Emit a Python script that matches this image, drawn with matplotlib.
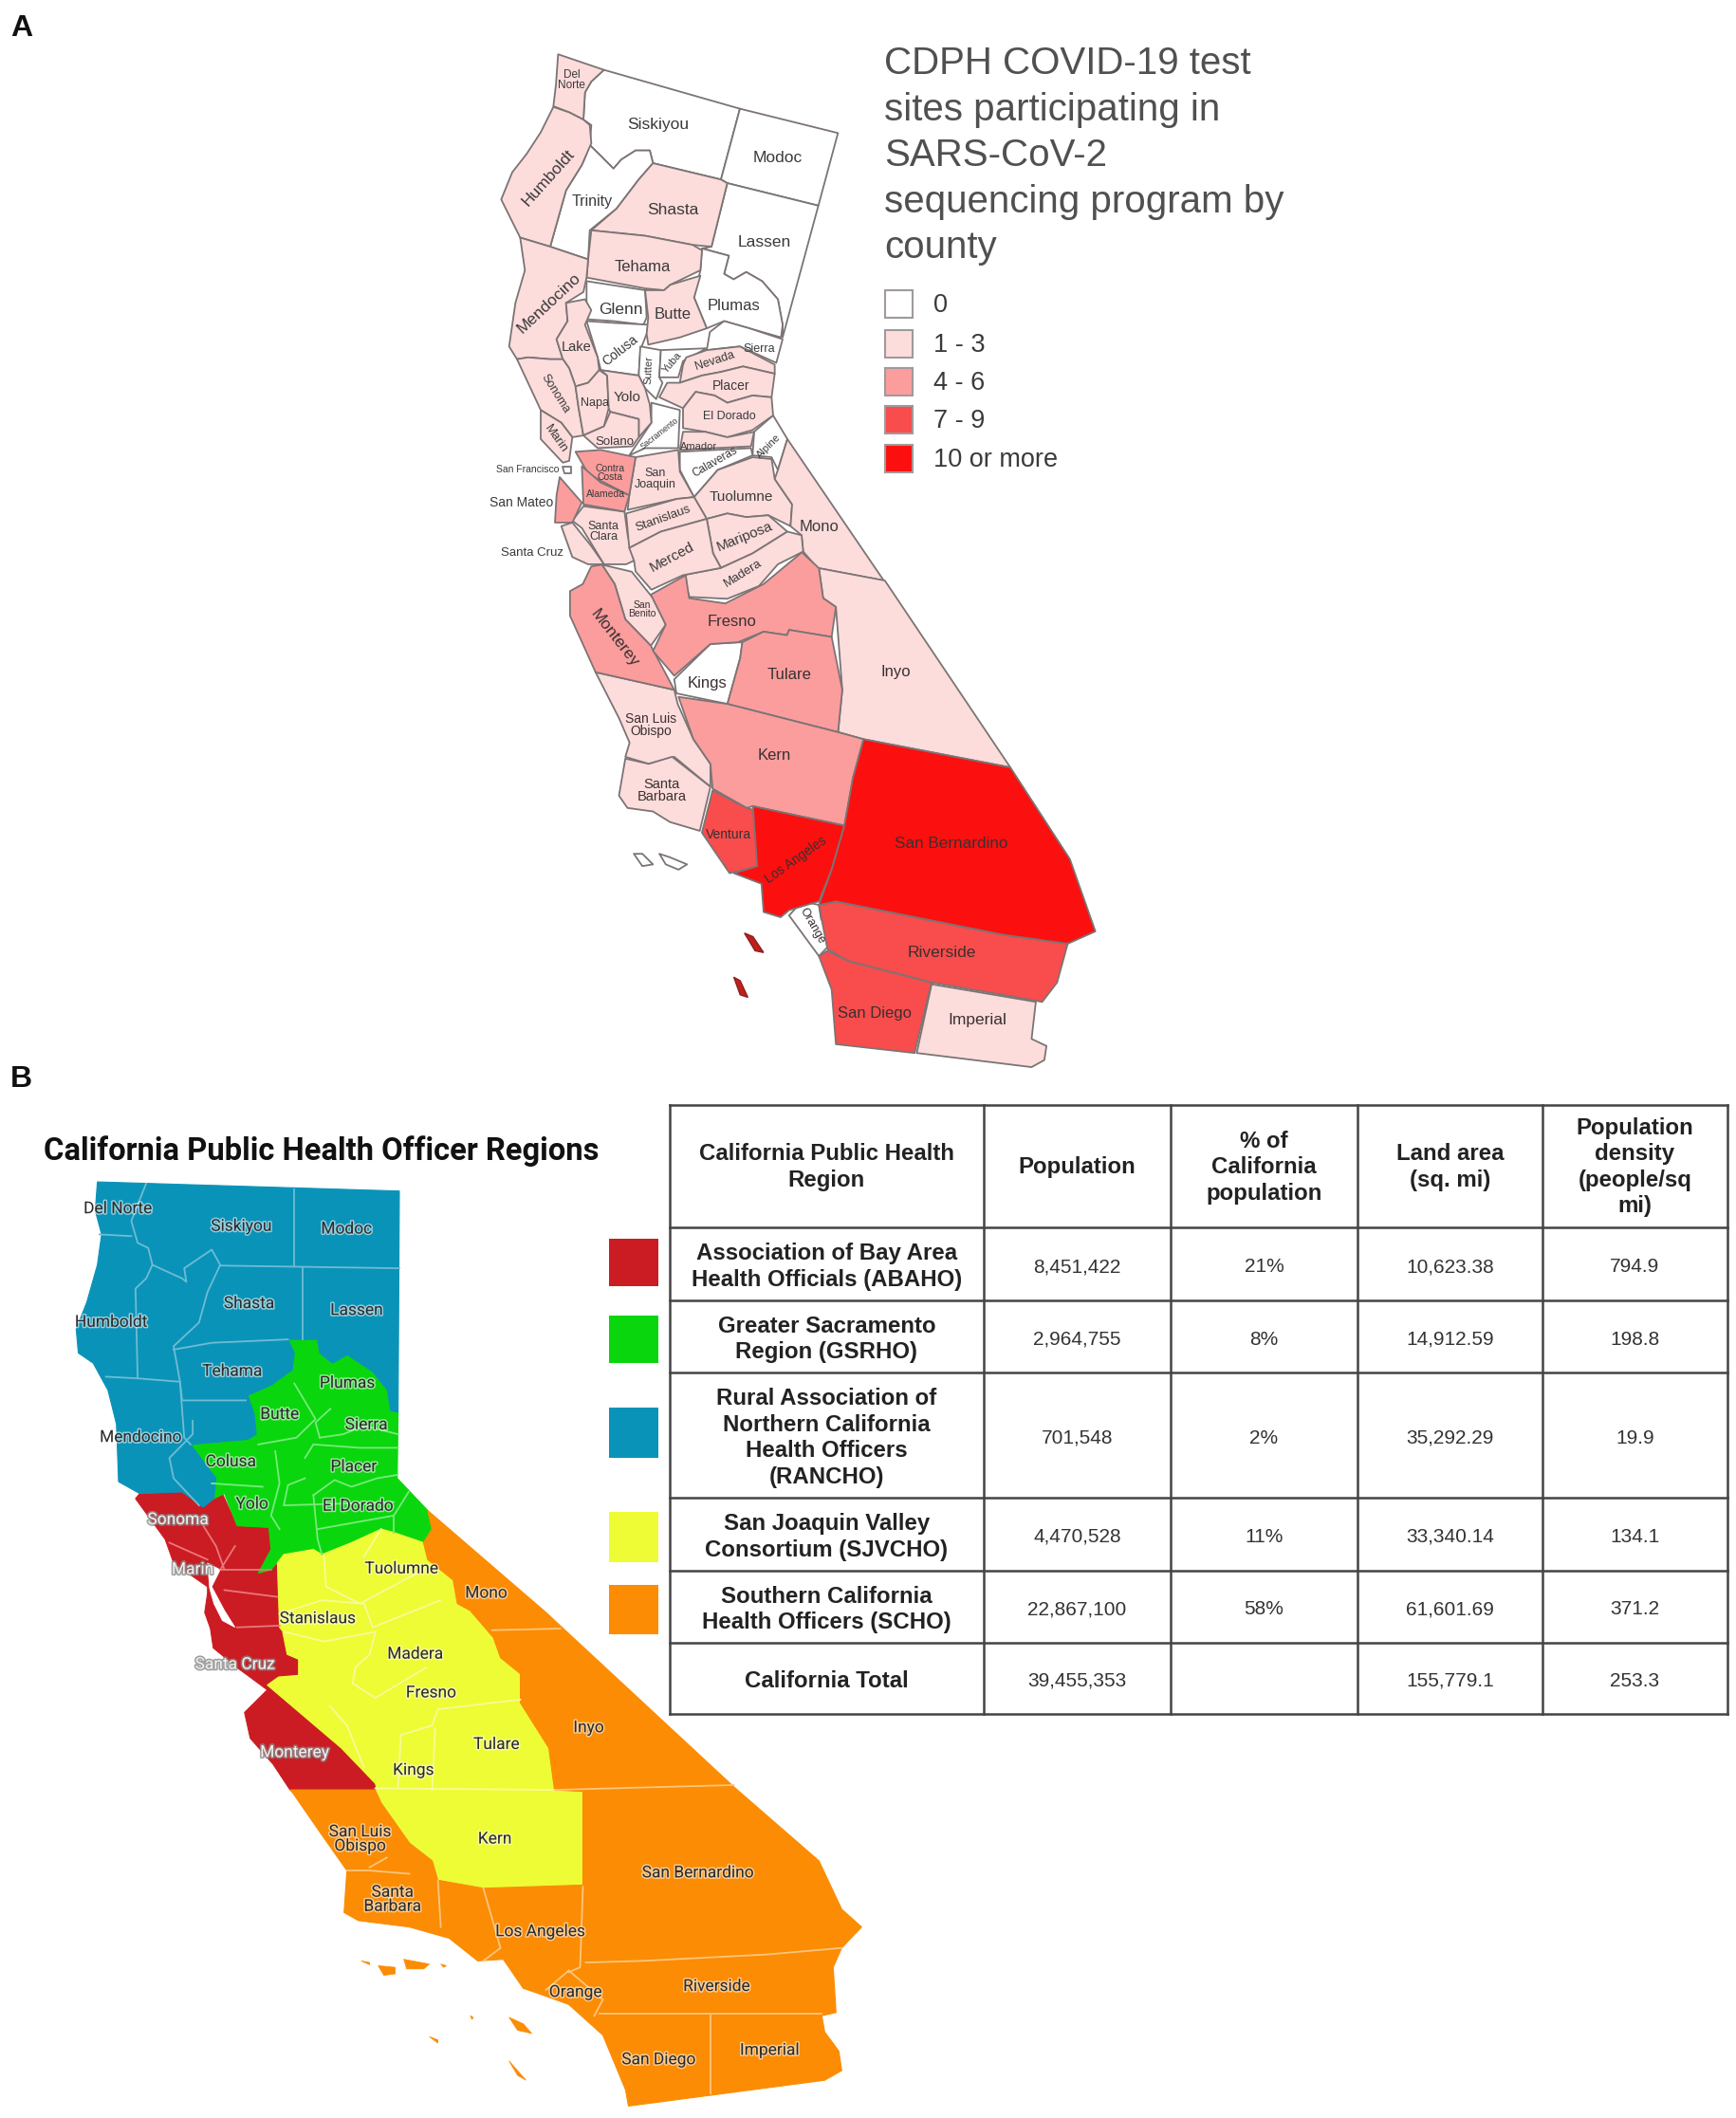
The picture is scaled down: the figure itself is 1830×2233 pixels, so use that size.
import matplotlib
matplotlib.use("Agg")
import matplotlib.pyplot as plt
import matplotlib.patheffects as pe
from matplotlib.patches import Polygon, Rectangle

plt.rcParams["font.family"] = ["Liberation Sans", "DejaVu Sans"]

# Map outlines in four crops, each with its own scale
def north_a(pts):
    return [(500 + x / 3.0, 40 + y / 2.613) for x, y in pts]

def south_a(pts):
    return [(500 + x / 2.23, 560 + y / 2.69) for x, y in pts]

def north_b(pts):
    return [(x / 2.24, 1180 + y / 2.8) for x, y in pts]

def south_b(pts):
    return [(x / 1.668, 1700 + y / 2.94) for x, y in pts]

# Panel A colour classes
tier_labels = ["0", "1 - 3", "4 - 6", "7 - 9", "10 or more"]
tier_colors = ["#ffffff", "#fddcdc", "#fb9d9d", "#f94c4c", "#fc0f0f"]

# Panel A counties, north part
del_norte = [(265,45),(410,88),(370,120),(350,150),(345,225),(300,205),(250,188),(258,130)]
humboldt = [(250,190),(300,205),(345,225),(365,240),(370,290),(350,330),(340,350),(290,420),(240,575),(145,550),(85,445),(120,370),(165,320),(210,260)]
siskiyou = [(410,88),(840,195),(780,390),(565,345),(555,310),(510,310),(465,335),(440,360),(400,325),(365,295),(370,240),(345,225),(350,150),(370,120)]
modoc = [(840,195),(1150,262),(1088,462),(800,400),(780,390)]
trinity = [(365,295),(400,325),(440,360),(465,335),(510,310),(555,310),(565,345),(520,390),(450,470),(365,530),(360,610),(240,575),(290,420),(340,350),(350,330)]
shasta = [(565,345),(780,390),(800,400),(750,575),(690,570),(540,545),(370,530),(450,470),(520,390)]
lassen = [(800,400),(1088,462),(975,825),(975,790),(960,720),(910,670),(860,645),(820,665),(790,650),(805,600),(720,580),(750,575)]
plumas = [(720,580),(805,600),(790,650),(820,665),(860,645),(910,670),(960,720),(975,790),(970,825),(870,800),(790,780),(735,800),(695,715),(715,640)]
tehama = [(370,530),(540,545),(690,570),(720,585),(715,640),(620,680),(600,695),(540,690),(355,660),(360,610)]
mendocino = [(145,550),(240,575),(360,610),(355,660),(345,700),(290,730),(295,780),(260,830),(280,885),(240,885),(170,880),(135,885),(110,850),(130,730),(160,640)]
glenn = [(355,670),(540,695),(545,770),(535,790),(440,780),(355,775)]
butte = [(540,695),(600,695),(620,680),(715,655),(695,715),(735,800),(650,825),(550,845),(545,815),(550,770)]
lake = [(290,730),(350,720),(370,750),(350,790),(390,880),(395,915),(360,950),(320,960),(300,910),(280,885),(260,830),(295,780)]
colusa = [(355,780),(440,785),(550,790),(545,815),(525,860),(520,930),(400,915),(390,880)]
sutter = [(525,850),(590,860),(585,935),(595,950),(575,995),(540,965),(520,930)]
yuba = [(590,860),(735,855),(660,890),(645,935),(585,935)]
sierra = [(745,810),(790,780),(870,800),(975,830),(955,895),(840,850),(735,860)]
nevada = [(670,880),(735,860),(840,850),(950,900),(950,925),(850,905),(780,920),(720,930),(650,950),(660,900)]
placer = [(650,950),(720,930),(780,920),(850,905),(950,925),(940,990),(880,985),(800,1005),(760,985),(700,975),(660,1020),(585,990),(610,950)]
el_dorado = [(660,1020),(700,975),(760,985),(800,1005),(880,985),(940,990),(945,1040),(880,1080),(800,1100),(730,1085),(660,1075)]
amador = [(660,1085),(730,1085),(800,1100),(885,1085),(875,1125),(650,1135)]
alpine = [(885,1085),(945,1040),(990,1105),(960,1190),(940,1155),(880,1150)]
calaveras = [(650,1140),(875,1130),(880,1150),(770,1190),(695,1265),(650,1190)]
tuolumne = [(695,1265),(770,1190),(880,1155),(940,1160),(950,1215),(1005,1285),(1000,1345),(930,1315),(860,1320),(800,1310),(735,1325)]
mono = [(990,1105),(1295,1495),(1085,1460),(1040,1415),(1035,1370),(1000,1345),(1005,1285),(950,1215),(960,1190)]
mariposa = [(735,1325),(800,1310),(860,1320),(930,1315),(990,1360),(880,1420),(780,1460),(755,1420)]
madera = [(660,1480),(780,1460),(880,1420),(990,1360),(1035,1370),(1040,1415),(960,1450),(900,1510),(800,1545),(680,1540)]
sonoma = [(135,885),(170,880),(240,885),(280,885),(300,910),(320,960),(330,1020),(345,1095),(310,1100),(275,1060),(210,1025)]
napa = [(320,960),(360,950),(395,915),(420,930),(425,1020),(410,1070),(345,1095),(330,1020)]
yolo = [(400,915),(520,930),(540,965),(555,1010),(560,1060),(520,1100),(520,1050),(430,1030),(425,1020),(420,930)]
solano = [(345,1095),(410,1070),(430,1030),(520,1050),(520,1100),(500,1125),(390,1130)]
marin = [(210,1025),(275,1060),(310,1100),(300,1165),(280,1170),(210,1105)]
sacramento = [(560,1005),(650,1025),(645,1130),(540,1130),(490,1150),(560,1060)]
contra_costa = [(320,1140),(400,1135),(510,1155),(490,1260),(400,1220),(360,1200),(340,1170)]
alameda = [(340,1180),(400,1225),(490,1260),(475,1305),(345,1285)]
san_francisco = [(280,1180),(305,1180),(305,1200),(285,1200)]
san_mateo = [(270,1210),(300,1240),(340,1280),(310,1335),(255,1335),(260,1260)]
santa_clara = [(345,1290),(475,1305),(485,1370),(505,1440),(480,1450),(410,1450),(340,1350),(310,1330)]
santa_cruz = [(275,1345),(310,1335),(370,1400),(410,1450),(360,1450),(310,1430)]
san_joaquin = [(510,1155),(645,1135),(650,1195),(695,1265),(640,1270),(485,1300),(490,1260)]
stanislaus = [(480,1310),(640,1270),(695,1265),(735,1325),(590,1360),(490,1405)]
merced = [(490,1405),(590,1360),(735,1325),(755,1420),(780,1460),(660,1480),(560,1520),(510,1470),(505,1440)]

# Panel A counties, south part
san_benito = [(300,95),(370,115),(420,190),(450,265),(415,325),(355,250),(330,150)]
monterey = [(275,100),(300,95),(330,150),(355,250),(415,325),(470,450),(285,400),(225,240),(225,170),(255,150)]
fresno = [(497,125),(505,190),(590,205),(680,150),(770,60),(810,105),(820,190),(850,215),(840,300),(740,280),(735,295),(680,285),(620,315),(555,320),(470,410),(420,340),(450,265),(415,180)]
kings = [(555,320),(630,315),(625,360),(595,490),(475,460),(470,420)]
tulare = [(630,315),(680,285),(735,295),(740,280),(840,300),(865,450),(855,570),(595,490),(625,360)]
inyo = [(810,105),(965,140),(1260,670),(915,590),(855,570),(865,450),(850,215),(820,190)]
slo = [(285,400),(470,450),(478,490),(515,590),(555,660),(555,725),(470,640),(410,660),(355,640),(365,600),(340,530)]
santa_barbara = [(355,645),(410,660),(465,640),(555,725),(530,850),(460,825),(420,795),(360,785),(340,750)]
kern = [(480,470),(595,490),(855,570),(915,590),(890,700),(870,835),(655,780),(640,785),(560,730),(555,660),(515,590)]
ventura = [(560,735),(640,785),(655,790),(670,950),(600,970),(535,855)]
los_angeles = [(655,780),(870,835),(840,960),(810,1050),(740,1075),(720,1095),(680,1080),(675,1000),(610,970),(665,950)]
san_bernardino = [(915,590),(1260,670),(1400,930),(1460,1135),(1395,1170),(1245,1145),(850,1050),(810,1060),(840,960),(870,835),(890,700)]
riverside = [(850,1050),(1245,1145),(1395,1170),(1370,1280),(1335,1335),(1075,1280),(880,1220),(830,1185),(810,1060)]
orange = [(740,1090),(770,1050),(810,1060),(815,1100),(850,1155),(810,1205)]
san_diego = [(830,1190),(880,1220),(1075,1280),(1035,1480),(850,1455),(840,1300),(810,1205)]
imperial = [(1075,1285),(1320,1335),(1310,1440),(1345,1460),(1340,1500),(1310,1520),(1040,1480)]
island_w1 = [(375,915),(395,915),(420,945),(395,950)]
island_w2 = [(435,915),(460,925),(500,945),(480,960),(450,945)]
island_r1 = [(635,1140),(655,1150),(680,1195),(660,1190)]
island_r2 = [(610,1265),(625,1275),(643,1322),(625,1315)]

north_by_tier = [
    [siskiyou, modoc, trinity, lassen, plumas, glenn, colusa, sutter, yuba, sierra, sacramento, alpine, calaveras, san_francisco],
    [del_norte, humboldt, shasta, tehama, mendocino, butte, lake, nevada, placer, el_dorado, amador, tuolumne, mono, mariposa, madera,
     sonoma, napa, yolo, solano, marin, santa_clara, santa_cruz, san_joaquin, stanislaus, merced],
    [contra_costa, alameda, san_mateo],
    [],
    [],
]
south_by_tier = [
    [kings, orange, island_w1, island_w2],
    [san_benito, inyo, slo, santa_barbara, imperial],
    [monterey, fresno, tulare, kern],
    [ventura, riverside, san_diego],
    [los_angeles, san_bernardino],
]

# (text, x, y, rotation, size)
north_a_labels = [
    ("Del\nNorte",308,117,0,8.5),("Siskiyou",582,240,0,12.5),("Modoc",960,330,0,12.5),("Humboldt",235,385,48,12.5),
    ("Trinity",372,450,0,11.5),("Shasta",628,475,0,12.5),("Lassen",918,563,0,12.5),("Tehama",532,630,0,12),
    ("Mendocino",235,730,43,12.5),("Glenn",463,748,0,12.5),("Butte",628,762,0,12),("Plumas",822,737,0,12),
    ("Lake",322,852,0,10.5),("Colusa",460,860,38,10),("Sutter",553,915,88,8),("Yuba",625,895,50,8),
    ("Nevada",760,890,18,9),("Sierra",900,858,0,9),("Placer",812,958,0,10),("El Dorado",805,1042,0,9),
    ("Yolo",483,990,0,11),("Napa",380,1005,0,9),("Sonoma",255,980,-58,9),("Marin",258,1105,-55,9.5),
    ("Solano",445,1113,0,9.5),("Sacramento",585,1090,38,6.5),("Amador",710,1125,0,8),("Alpine",930,1125,45,8),
    ("Calaveras",760,1168,30,8.5),("San Francisco",168,1188,0,7.5),("Contra\nCosta",430,1198,0,7.5),("Alameda",415,1257,0,7.5),
    ("San\nJoaquin",572,1215,0,9),("San Mateo",150,1280,0,10),("Tuolumne",845,1265,0,11),("Stanislaus",598,1325,20,9.5),
    ("Santa\nClara",408,1360,0,9),("Mono",1090,1348,0,12),("Mariposa",855,1375,22,11),("Merced",625,1430,28,11),
    ("Santa Cruz",183,1418,0,9.5),("Madera",850,1475,32,9.5),
]
south_a_labels = [
    ("San\nBenito",395,222,0,7.5),("Monterey",330,305,-52,12.5),("Fresno",605,258,0,12),("Kings",548,432,0,12),
    ("Tulare",740,408,0,12),("Inyo",990,400,0,12),("San Luis\nObispo",415,550,0,10),("Kern",706,635,0,12),
    ("Santa\nBarbara",440,735,0,10.5),("Ventura",597,862,0,10),("Los Angeles",755,932,35,10),("San Bernardino",1120,887,0,12.3),
    ("Orange",795,1120,-60,9),("Riverside",1100,1197,0,12.5),("San Diego",942,1368,0,12),("Imperial",1183,1387,0,12.5),
]

# Panel B regions
region_names = ["ABAHO", "GSRHO", "RANCHO", "SJVCHO", "SCHO"]
region_colors = ["#cb1c23", "#0ad60e", "#0a93b8", "#eefc35", "#fb8c04"]
line_colors = ["#e8787c", "#78ea7a", "#6ebcd4", "#f6fb9a", "#fcc57c"]

rancho = [(230,185),(943,212),(940,865),(922,860),(915,800),(880,745),(820,695),(785,720),(755,690),(750,650),(680,650),(695,690),(690,740),(640,785),(585,815),(600,870),(605,930),(585,945),(450,960),(510,1060),(505,1120),(480,1145),(430,1100),(330,1105),(280,1070),(275,900),(255,800),(220,720),(185,690),(180,620),(205,540),(230,430),(240,340),(225,270)]
gsrho = [(680,650),(750,650),(755,690),(785,720),(820,695),(880,745),(915,800),(922,860),(940,865),(938,1060),(1010,1155),(1020,1210),(1000,1250),(930,1220),(900,1210),(830,1250),(760,1285),(740,1270),(670,1285),(640,1330),(610,1340),(640,1270),(635,1205),(560,1200),(530,1105),(505,1120),(510,1060),(450,960),(585,945),(605,930),(600,870),(585,815),(640,785),(690,740),(695,690)]
abaho_n = [(320,1120),(330,1105),(430,1100),(480,1145),(505,1120),(525,1105),(560,1200),(635,1205),(640,1270),(610,1340),(640,1330),(655,1310),(660,1500),(680,1530)]
abaho_s = [(497,60),(505,130),(525,145),(525,195),(490,200),(470,225),(600,420),(660,530),(660,550),(510,550),(480,470),(440,390),(430,310),(470,240),(420,175),(375,110),(370,50),(360,0)]
abaho_n_coast = [(490,1400),(490,1380),(410,1310),(390,1240)]
bay_water = [(490,1310),(520,1330),(500,1380),(530,1450),(555,1500),(525,1480),(505,1430),(495,1385)]
sjv_n = [(655,1310),(670,1285),(740,1270),(760,1285),(830,1250),(900,1210),(930,1220),(1000,1250),(1010,1300),(1070,1360),(1080,1430),(1110,1450),(1165,1530)]
sjv_s = [(880,140),(915,190),(915,280),(965,420),(975,550),(1025,555),(1025,845),(850,855),(770,830),(760,770),(720,715),(670,590),(660,530),(600,420),(470,225),(490,200),(525,195),(525,145),(505,130),(497,60)]
sjv_n_tail = [(680,1530),(660,1500)]
scho_n = [(1010,1155)]
scho_s = [(960,0),(1290,540),(1440,770),(1480,920),(1515,975),(1480,1040),(1465,1100),(1470,1240),(1445,1250),(1450,1300),(1475,1360),(1480,1420),(1450,1450),(1105,1530),(1100,1480),(1060,1310),(1000,1215),(945,1180),(920,1165),(885,1075),(840,1080),(790,1010),(720,975),(630,955),(605,930),(610,800),(570,700),(515,560),(510,550),(660,550),(670,590),(720,715),(760,770),(770,830),(850,855),(1025,845),(1025,555),(975,550),(965,420),(915,280),(915,190),(880,140)]
scho_n_tail = [(1165,1530),(1110,1450),(1080,1430),(1070,1360),(1010,1300),(1000,1250),(1020,1210)]
scho_islands = [
    [(635,1080),(650,1085),(650,1092)],
    [(665,1095),(695,1100),(695,1120),(675,1125)],
    [(710,1075),(755,1090),(745,1105),(715,1105)],
    [(775,1090),(785,1095),(780,1100)],
    [(895,1255),(920,1275),(935,1305),(910,1295)],
    [(755,1315),(770,1325),(770,1335)],
    [(895,1390),(925,1450),(910,1435)],
    [(827,1250),(832,1255),(830,1262)],
]

# county borders inside each region
rancho_lines = [
    [(695,208),(695,435)],
    [(520,432),(943,440)],
    [(715,440),(715,650)],
    [(345,190),(310,300),(325,365),(350,380),(360,430),(345,470),(320,500),(325,765),(425,775),(430,830),(580,830)],
    [(235,340),(310,345)],
    [(360,430),(430,470),(440,480),(435,440),(500,385),(520,430),(490,510),(470,600),(410,670),(425,775),(435,940),(450,960)],
    [(410,680),(500,660),(680,650)],
    [(250,760),(325,765)],
    [(455,890),(455,930),(400,1000),(410,1060),(470,1140)],
]
gsrho_lines = [
    [(695,780),(745,885),(700,940),(610,960)],
    [(780,855),(745,895),(755,940)],
    [(755,940),(810,930),(860,905),(940,930)],
    [(720,1000),(740,960),(850,970),(940,970)],
    [(650,980),(660,1075),(640,1170),(660,1210)],
    [(500,1075),(620,1085)],
    [(720,1060),(680,1080),(670,1140),(930,1130)],
    [(740,1110),(790,1065),(830,1085),(890,1060),(938,1050)],
    [(740,1110),(750,1240),(760,1285)],
    [(750,1210),(840,1190),(930,1170),(965,1100)],
    [(930,1170),(930,1220)],
]
abaho_lines = [
    [(480,1200),(510,1260),(530,1330)],
    [(400,1250),(490,1300)],
    [(555,1260),(520,1330),(640,1330)],
    [(530,1390),(655,1410)],
    [(560,1500),(660,1495)],
]
sjvcho_lines = [
    [(765,1290),(770,1380),(850,1430),(1000,1330)],
    [(900,1210),(860,1290)],
    [(660,1460),(760,1420),(860,1430)],
    [(860,1430),(880,1500),(1040,1420)],
]
sjvcho_lines_s = [
    [(500,60),(570,90),(660,60),(650,130),(625,170),(620,220),(660,265),(750,170)],
    [(580,290),(610,350),(640,480)],
    [(705,380),(760,350),(770,300),(915,270)],
    [(705,380),(700,540)],
    [(765,360),(760,550)],
    [(660,545),(975,550)],
]
scho_lines = [
    [(865,55),(985,50)],
    [(975,550),(1290,535)],
    [(1025,850),(1020,1100),(1000,1115)],
    [(1030,1085),(1130,1080),(1350,1060),(1480,1040)],
    [(1055,1245),(1445,1245)],
    [(1250,1250),(1250,1490)],
    [(770,830),(775,975)],
    [(850,855),(880,1040),(850,1080)],
    [(650,790),(680,760)],
    [(610,800),(650,800),(720,810)],
    [(1000,1110),(1060,1200),(1045,1250)],
    [(1000,1110),(960,1170)],
]

north_b_labels = [
    ("Del Norte",278,265),("Siskiyou",570,317),("Modoc",818,325),("Shasta",588,545),("Lassen",842,565),
    ("Humboldt",262,600),("Tehama",548,745),("Plumas",820,780),("Butte",660,872),("Sierra",865,903),
    ("Mendocino",332,940),("Colusa",545,1012),("Placer",835,1027),("Yolo",595,1137),("El Dorado",845,1143),
    ("Tuolumne",948,1328),("Mono",1148,1400),("Stanislaus",750,1475),
]
south_b_labels = [
    ("Madera",730,130),("Fresno",758,250),("Inyo",1035,358),("Tulare",873,410),("Kings",727,490),
    ("San Luis\nObispo",633,703),("Kern",870,703),("San Bernardino",1227,808),("Santa\nBarbara",690,890),
    ("Los Angeles",950,990),("Orange",1012,1178),("Riverside",1260,1160),("Imperial",1353,1358),("San Diego",1158,1387),
]
pale_north_b_labels = [("Sonoma",420,1183),("Marin",455,1330)]
pale_south_b_labels = [("Santa Cruz",413,162),("Monterey",518,435)]

# Panel B table
table_header = ["California Public Health\nRegion", "Population", "% of\nCalifornia\npopulation", "Land area\n(sq. mi)", "Population\ndensity\n(people/sq\nmi)"]
table_regions = ["Association of Bay Area\nHealth Officials (ABAHO)", "Greater Sacramento\nRegion (GSRHO)",
                 "Rural Association of\nNorthern California\nHealth Officers\n(RANCHO)", "San Joaquin Valley\nConsortium (SJVCHO)",
                 "Southern California\nHealth Officers (SCHO)", "California Total"]
table_population = ["8,451,422", "2,964,755", "701,548", "4,470,528", "22,867,100", "39,455,353"]
table_share = ["21%", "8%", "2%", "11%", "58%", ""]
table_area = ["10,623.38", "14,912.59", "35,292.29", "33,340.14", "61,601.69", "155,779.1"]
table_density = ["794.9", "198.8", "19.9", "134.1", "371.2", "253.3"]
col_edges = [706, 1037, 1234, 1431, 1626, 1821]
row_edges = [1165, 1294, 1371, 1447, 1579, 1656, 1732, 1807]
swatch_rows = [(1306, 1356), (1387, 1437), (1484, 1537), (1594, 1647), (1671, 1723)]

fig = plt.figure(figsize=(18.31, 22.33), dpi=100)
ax = fig.add_axes([0, 0, 1, 1])
ax.set_xlim(0, 1831)
ax.set_ylim(2233, 0)
ax.axis("off")

ax.text(11, 30, "A", fontsize=23, fontweight="bold", ha="left", va="center", color="#111111")
ax.text(11, 1138, "B", fontsize=23, fontweight="bold", ha="left", va="center", color="#111111")

# Panel A map
for tier in range(5):
    for shape in north_by_tier[tier]:
        ax.add_patch(Polygon(north_a(shape), closed=True, facecolor=tier_colors[tier], edgecolor="#7c7474", lw=1.3, joinstyle="round"))
    for shape in south_by_tier[tier]:
        ax.add_patch(Polygon(south_a(shape), closed=True, facecolor=tier_colors[tier], edgecolor="#7c7474", lw=1.3, joinstyle="round"))
for shape in [island_r1, island_r2]:
    ax.add_patch(Polygon(south_a(shape), closed=True, facecolor="#c0201c", edgecolor="#8a2020", lw=1))

for text, x, y, rot, size in north_a_labels:
    px, py = north_a([(x, y)])[0]
    ax.text(px, py, text, rotation=rot, fontsize=size, ha="center", va="center", color="#3a3a3a", linespacing=0.9, rotation_mode="anchor")
for text, x, y, rot, size in south_a_labels:
    px, py = south_a([(x, y)])[0]
    ax.text(px, py, text, rotation=rot, fontsize=size, ha="center", va="center", color="#3a3030", linespacing=0.9, rotation_mode="anchor")

# Panel A legend
ax.text(932, 67, "CDPH COVID-19 test", fontsize=29, color="#505050", ha="left", va="center")
ax.text(932, 116, "sites participating in", fontsize=29, color="#505050", ha="left", va="center")
ax.text(932, 164, "SARS-CoV-2", fontsize=29, color="#505050", ha="left", va="center")
ax.text(932, 213, "sequencing program by", fontsize=29, color="#505050", ha="left", va="center")
ax.text(932, 261, "county", fontsize=29, color="#505050", ha="left", va="center")
legend_tops = [306, 348, 388, 428, 469]
for i, label in enumerate(tier_labels):
    ax.add_patch(Rectangle((933, legend_tops[i]), 29, 29, facecolor=tier_colors[i], edgecolor="#a09a9a", lw=1.5))
    ax.text(984, legend_tops[i] + 16, label, fontsize=19.5, color="#3a3a3a", ha="left", va="center")

# Panel B map
ax.text(46, 1214, "California Public Health Officer Regions", fontsize=23.6, fontweight="bold", family=["Roboto", "DejaVu Sans"],
        color="#111111", ha="left", va="center")

abaho = north_b(abaho_n) + south_b(abaho_s) + north_b(abaho_n_coast)
sjvcho = north_b(sjv_n) + south_b(sjv_s) + north_b(sjv_n_tail)
scho = north_b(scho_n) + south_b(scho_s) + north_b(scho_n_tail)
region_shapes = [abaho, north_b(gsrho), north_b(rancho), sjvcho, scho]
for shape, color in zip(region_shapes, region_colors):
    ax.add_patch(Polygon(shape, closed=True, facecolor=color, edgecolor=color, lw=0.8))
ax.add_patch(Polygon(north_b(bay_water), closed=True, facecolor="white", edgecolor="white", lw=0.5))
for shape in scho_islands:
    ax.add_patch(Polygon(south_b(shape), closed=True, facecolor=region_colors[4], edgecolor=region_colors[4], lw=0.5))

for line in rancho_lines:
    pts = north_b(line)
    ax.plot([p[0] for p in pts], [p[1] for p in pts], color=line_colors[2], lw=1.3)
for line in gsrho_lines:
    pts = north_b(line)
    ax.plot([p[0] for p in pts], [p[1] for p in pts], color=line_colors[1], lw=1.3)
for line in abaho_lines:
    pts = north_b(line)
    ax.plot([p[0] for p in pts], [p[1] for p in pts], color=line_colors[0], lw=1.3)
for line in sjvcho_lines:
    pts = north_b(line)
    ax.plot([p[0] for p in pts], [p[1] for p in pts], color=line_colors[3], lw=1.3)
for line in sjvcho_lines_s:
    pts = south_b(line)
    ax.plot([p[0] for p in pts], [p[1] for p in pts], color=line_colors[3], lw=1.3)
for line in scho_lines:
    pts = south_b(line)
    ax.plot([p[0] for p in pts], [p[1] for p in pts], color=line_colors[4], lw=1.3)

halo = [pe.withStroke(linewidth=2.2, foreground="#ffffff", alpha=0.55)]
grey_halo = [pe.withStroke(linewidth=2.4, foreground="#8a8a8a", alpha=0.8)]
for labels, convert in [(north_b_labels, north_b), (south_b_labels, south_b)]:
    for text, x, y in labels:
        px, py = convert([(x, y)])[0]
        ax.text(px, py, text, fontsize=12.5, color="#2c2c2c", ha="center", va="center", family=["Roboto", "DejaVu Sans"],
                linespacing=1.0, path_effects=halo)
for labels, convert in [(pale_north_b_labels, north_b), (pale_south_b_labels, south_b)]:
    for text, x, y in labels:
        px, py = convert([(x, y)])[0]
        ax.text(px, py, text, fontsize=12.5, color="#f4f0f0", ha="center", va="center", family=["Roboto", "DejaVu Sans"],
                path_effects=grey_halo)

# Panel B legend squares
for (top, bottom), color in zip(swatch_rows, region_colors):
    ax.add_patch(Rectangle((642, top), 52, bottom - top, facecolor=color, edgecolor="none"))

# Panel B table
for x in col_edges:
    ax.plot([x, x], [row_edges[0], row_edges[-1]], color="#444444", lw=1.8, solid_capstyle="projecting")
for y in row_edges:
    ax.plot([col_edges[0], col_edges[-1]], [y, y], color="#444444", lw=1.8, solid_capstyle="projecting")

for j, text in enumerate(table_header):
    ax.text((col_edges[j] + col_edges[j + 1]) / 2, (row_edges[0] + row_edges[1]) / 2 + 1, text, fontsize=17.3, fontweight="bold",
            ha="center", va="center", color="#222222", linespacing=1.25)
table_cols = [table_population, table_share, table_area, table_density]
for i in range(6):
    mid = (row_edges[i + 1] + row_edges[i + 2]) / 2 + 3
    ax.text((col_edges[0] + col_edges[1]) / 2, mid, table_regions[i], fontsize=17.3, fontweight="bold",
            ha="center", va="center", color="#222222", linespacing=1.25)
    for j, col in enumerate(table_cols):
        ax.text((col_edges[j + 1] + col_edges[j + 2]) / 2, mid, col[i], fontsize=15, ha="center", va="center", color="#333333")

fig.savefig("out.png", dpi=100, facecolor="white")
